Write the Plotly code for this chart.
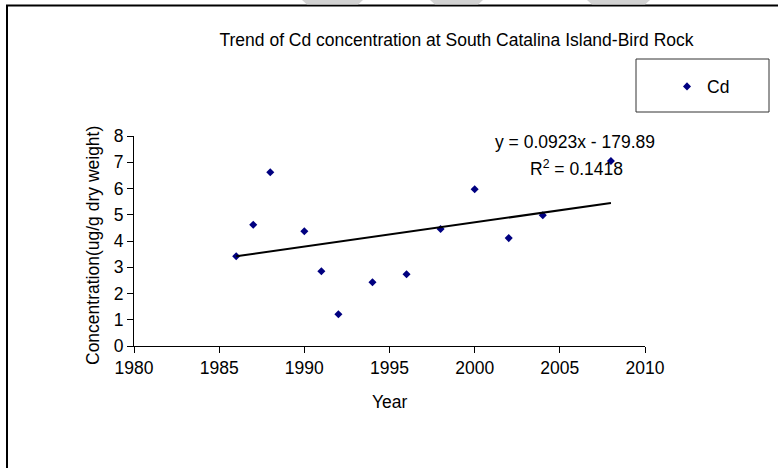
import plotly.graph_objects as go

# ---- data ----
years = [1986, 1987, 1988, 1990, 1991, 1992, 1994, 1996, 1998, 2000, 2002, 2004, 2008]
cd_values = [3.42, 4.62, 6.62, 4.37, 2.85, 1.21, 2.43, 2.73, 4.46, 5.97, 4.11, 4.98, 7.05]
trend_slope = 0.0923
trend_intercept = -179.89
x_ticks = [1980, 1985, 1990, 1995, 2000, 2005, 2010]
y_ticks = [0, 1, 2, 3, 4, 5, 6, 7, 8]

W, H = 778, 468
L, R, T, B = 134, 645, 136, 346  # plot area in pixels
FONT = "Liberation Sans, Arial, sans-serif"
FS = 17.5


def px(x):
    return (x - L) / (R - L)


def py(y):
    return (B - y) / (B - T)


trend_x = [min(years), max(years)]
trend_y = [trend_slope * v + trend_intercept for v in trend_x]

fig = go.Figure()
fig.add_trace(go.Scatter(
    x=years, y=cd_values, mode="markers", name="Cd",
    marker=dict(symbol="diamond", size=6.2, color="#000080", line=dict(width=0)),
))
fig.add_trace(go.Scatter(
    x=trend_x, y=trend_y, mode="lines", showlegend=False,
    line=dict(color="black", width=2),
))

shapes = []
# outer chart frame (cut off on the right and bottom)
shapes.append(dict(type="rect", xref="paper", yref="paper",
                   x0=px(7), x1=px(800), y0=py(500), y1=py(5.5),
                   line=dict(color="black", width=2), fillcolor="rgba(0,0,0,0)"))
# legend box
shapes.append(dict(type="rect", xref="paper", yref="paper",
                   x0=px(636), x1=px(769), y0=py(112), y1=py(59),
                   line=dict(color="#333333", width=1), fillcolor="rgba(0,0,0,0)"))
# grey watermark fragments at the top edge
for (a, b, c, d) in [(302, 363, 307, 358), (430, 483, 435, 478), (587, 650, 592, 645)]:
    path = (f"M {px(a)} {py(0)} L {px(b)} {py(0)} L {px(d)} {py(4.5)} "
            f"L {px(c)} {py(4.5)} Z")
    shapes.append(dict(type="path", xref="paper", yref="paper", path=path,
                       fillcolor="#d2d2d2", line=dict(width=0), layer="above"))

annotations = [
    dict(text="y = 0.0923x - 179.89", x=2005.9, y=7.78, xref="x", yref="y",
         showarrow=False, xanchor="center", yanchor="middle",
         font=dict(family=FONT, size=FS, color="black")),
    dict(text="R<sup>2</sup> = 0.1418", x=2006.0, y=6.78, xref="x", yref="y",
         showarrow=False, xanchor="center", yanchor="middle",
         font=dict(family=FONT, size=FS, color="black")),
    dict(text="Year", x=0.5, y=py(402), xref="paper", yref="paper",
         showarrow=False, xanchor="center", yanchor="middle",
         font=dict(family=FONT, size=FS, color="black")),
    dict(text="Concentration(ug/g dry weight)", x=px(93), y=py(246), xref="paper",
         yref="paper", showarrow=False, xanchor="center", yanchor="middle",
         textangle=-90, font=dict(family=FONT, size=FS, color="black")),
]

fig.update_layout(
    width=W, height=H,
    margin=dict(l=L, r=W - R, t=T, b=H - B, pad=0),
    paper_bgcolor="white", plot_bgcolor="white",
    font=dict(family=FONT, size=FS, color="black"),
    title=dict(text="Trend of Cd concentration at South Catalina Island-Bird Rock",
               x=456.5 / W, xref="container", xanchor="center",
               y=1 - 39.5 / H, yref="container", yanchor="middle",
               font=dict(family=FONT, size=FS, color="black")),
    showlegend=True,
    legend=dict(x=px(667), y=py(86.5), xref="paper", yref="paper",
                xanchor="left", yanchor="middle",
                bgcolor="rgba(0,0,0,0)", borderwidth=0,
                font=dict(family=FONT, size=FS, color="black")),
    shapes=shapes,
    annotations=annotations,
)
fig.update_xaxes(range=[1980, 2010], tickvals=x_ticks, ticktext=[str(v) for v in x_ticks],
                 ticks="outside", ticklen=6, tickcolor="black", tickwidth=1,
                 showline=True, linecolor="black", linewidth=1,
                 showgrid=False, zeroline=False,
                 tickfont=dict(family=FONT, size=FS, color="black"))
fig.update_yaxes(range=[0, 8], tickvals=y_ticks, ticktext=[str(v) for v in y_ticks],
                 ticks="outside", ticklen=6, tickcolor="black", tickwidth=1,
                 showline=True, linecolor="black", linewidth=1,
                 showgrid=False, zeroline=False,
                 tickfont=dict(family=FONT, size=FS, color="black"))

fig.write_html(
    "out.html",
    config={"displayModeBar": False},
    post_script="document.body.style.margin='0';document.body.style.overflow='hidden';",
)
